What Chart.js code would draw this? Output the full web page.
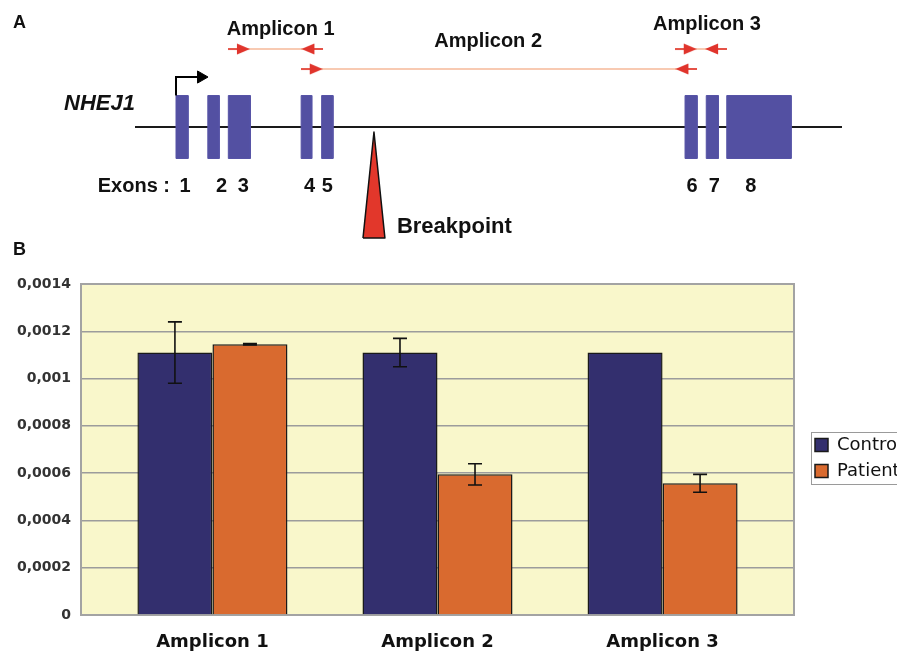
<!DOCTYPE html>
<html><head><meta charset="utf-8">
<script src="https://cdn.jsdelivr.net/npm/chart.js@4.4.1/dist/chart.umd.min.js"></script>
<style>
html,body{margin:0;padding:0;background:#fff;overflow:hidden;width:897px;height:653px;}
#wrap{position:relative;width:897px;height:653px;overflow:hidden;}
#cA{position:absolute;left:0;top:0;}
#cB{position:absolute;left:0;top:240px;}
</style></head><body>
<div id="wrap">
<canvas id="cA" width="897" height="240"></canvas>
<canvas id="cB" width="907" height="416"></canvas>
</div>
<script>
// ---------- Panel B data ----------
const categories = ['Amplicon 1', 'Amplicon 2', 'Amplicon 3'];
const seriesNames = ['Control', 'Patient'];
const controlValues = [0.00111, 0.00111, 0.00111];
const patientValues = [0.001145, 0.000595, 0.000557];
const controlErrors = [0.00013, 0.00006, 0];
const patientErrors = [0.000003, 0.000045, 0.000038];
const yTickLabels = ['0', '0,0002', '0,0004', '0,0006', '0,0008', '0,001', '0,0012', '0,0014'];

// ---------- Panel A data (schematic gene coordinates, arbitrary units) ----------
const geneName = 'NHEJ1';
const geneSpan = [0, 100];
const exonNumbers = ['1', '2', '3', '4', '5', '6', '7', '8'];
const exonStarts = [5.8, 10.3, 13.2, 23.5, 26.4, 77.8, 80.8, 83.7];
const exonEnds   = [7.5, 11.9, 16.3, 25.0, 28.0, 79.5, 82.5, 92.8];
const ampliconNames = ['Amplicon 1', 'Amplicon 2', 'Amplicon 3'];
const ampliconStarts = [13.2, 23.5, 76.4];
const ampliconEnds   = [26.6, 79.5, 83.7];
const breakpointPos = 33.8;
const breakpointLabel = 'Breakpoint';
const exonsLabel = 'Exons :';

// ---------- Panel A layout (positions / sizes, not data) ----------
const layoutA = {
  xMin: -19.095, xMax: 107.78, yMin: -1.948, yMax: 2.19,
  exonHalf: 0.543,
  ampTrack: [1.345, 1.0, 1.345],
  ampLabelY: [1.586, 1.379, 1.672],
  ampLabelDx: [5, -11, 6],
  primerHalf: 1.5,
  tssTop: 0.862, tssHead: 9.34,
  exonNumY: -1.12,
  exonNumDx: [3, 8, 4, 3, 0, 1, 2, -8],
  bpApex: -0.086, bpBase: -1.914, bpHalf: 1.55,
  bpLabelY: -1.828,
  geneLabelY: 0.293
};

function primerImage(){
  const c = document.createElement('canvas');
  c.width = 22; c.height = 12;
  const g = c.getContext('2d');
  g.strokeStyle = '#e0342c'; g.lineWidth = 1.6;
  g.beginPath(); g.moveTo(0, 6); g.lineTo(10, 6); g.stroke();
  g.fillStyle = '#e0342c';
  g.beginPath(); g.moveTo(9, 0.5); g.lineTo(22, 6); g.lineTo(9, 11.5); g.closePath(); g.fill();
  return c;
}
const primerImg = primerImage();

const FONT_A = '"Liberation Sans", Arial, Helvetica, sans-serif';

// ---------- Panel A chart ----------
const dsA = [];
dsA.push({ // gene line
  data: [{x: geneSpan[0], y: 0}, {x: geneSpan[1], y: 0}],
  borderColor: '#1a1a1a', borderWidth: 2, pointRadius: 0, fill: false, order: 20
});
exonStarts.forEach((s, i) => {
  const e = exonEnds[i], h = layoutA.exonHalf;
  dsA.push({
    data: [{x: s, y: h}, {x: e, y: h}, {x: e, y: -h}, {x: s, y: -h}, {x: s, y: h}],
    borderColor: '#5653a6', borderWidth: 1, backgroundColor: '#5350a2',
    fill: 'shape', pointRadius: 0, order: 10
  });
});
ampliconStarts.forEach((s, i) => {
  dsA.push({
    data: [{x: s, y: layoutA.ampTrack[i]}, {x: ampliconEnds[i], y: layoutA.ampTrack[i]}],
    borderColor: '#f6b898', borderWidth: 1.5, pointRadius: 0, fill: false, order: 15
  });
});
// primers
const primerPts = [], primerRot = [];
ampliconStarts.forEach((s, i) => {
  primerPts.push({x: s + layoutA.primerHalf, y: layoutA.ampTrack[i]}); primerRot.push(0);
  primerPts.push({x: ampliconEnds[i] - layoutA.primerHalf, y: layoutA.ampTrack[i]}); primerRot.push(180);
});
dsA.push({
  data: primerPts, showLine: false, pointStyle: primerImg, pointRotation: primerRot,
  pointRadius: 8, order: 1
});
// transcription start arrow
dsA.push({
  data: [{x: exonStarts[0], y: layoutA.exonHalf}, {x: exonStarts[0], y: layoutA.tssTop}, {x: layoutA.tssHead, y: layoutA.tssTop}],
  borderColor: '#000', borderWidth: 2, pointRadius: 0, fill: false, order: 5, borderJoinStyle: 'miter'
});
dsA.push({
  data: [{x: layoutA.tssHead, y: layoutA.tssTop}], showLine: false,
  pointStyle: 'triangle', pointRotation: 90, pointRadius: 7,
  pointBackgroundColor: '#000', pointBorderColor: '#000', pointBorderWidth: 1, order: 4
});
// breakpoint triangle
dsA.push({
  data: [{x: breakpointPos - layoutA.bpHalf, y: layoutA.bpBase}, {x: breakpointPos, y: layoutA.bpApex},
         {x: breakpointPos + layoutA.bpHalf, y: layoutA.bpBase}, {x: breakpointPos - layoutA.bpHalf, y: layoutA.bpBase}],
  backgroundColor: '#e2372b', borderColor: '#111', borderWidth: 1.5, fill: 'shape',
  pointRadius: 0, borderJoinStyle: 'round', order: 6
});

const textA = {
  id: 'textA',
  afterDatasetsDraw(chart){
    const ctx = chart.ctx, xs = chart.scales.x, ys = chart.scales.y;
    ctx.save();
    ctx.fillStyle = '#111';
    ctx.textBaseline = 'alphabetic';
    ctx.font = 'bold 18px ' + FONT_A;
    ctx.textAlign = 'left';
    ctx.fillText('A', 13, 28);
    ctx.font = 'bold 20px ' + FONT_A;
    ctx.textAlign = 'center';
    ampliconNames.forEach((n, i) => {
      const x = xs.getPixelForValue((ampliconStarts[i] + ampliconEnds[i]) / 2) + layoutA.ampLabelDx[i];
      ctx.fillText(n, x, ys.getPixelForValue(layoutA.ampLabelY[i]));
    });
    const yn = ys.getPixelForValue(layoutA.exonNumY);
    exonNumbers.forEach((n, i) => {
      const x = xs.getPixelForValue((exonStarts[i] + exonEnds[i]) / 2) + layoutA.exonNumDx[i];
      ctx.fillText(n, x, yn);
    });
    ctx.textAlign = 'right';
    ctx.fillText(exonsLabel, xs.getPixelForValue(exonStarts[0]) - 6, yn);
    ctx.font = 'italic bold 22px ' + FONT_A;
    ctx.fillText(geneName, xs.getPixelForValue(geneSpan[0]), ys.getPixelForValue(layoutA.geneLabelY));
    ctx.font = 'bold 22px ' + FONT_A;
    ctx.textAlign = 'left';
    ctx.fillText(breakpointLabel, xs.getPixelForValue(breakpointPos + layoutA.bpHalf) + 12, ys.getPixelForValue(layoutA.bpLabelY));
    ctx.restore();
  }
};

new Chart(document.getElementById('cA'), {
  type: 'line',
  data: {datasets: dsA},
  options: {
    responsive: false, animation: false, events: [],
    layout: {padding: 0, autoPadding: false},
    scales: {
      x: {type: 'linear', min: layoutA.xMin, max: layoutA.xMax, display: false},
      y: {type: 'linear', min: layoutA.yMin, max: layoutA.yMax, display: false}
    },
    plugins: {legend: {display: false}, tooltip: {enabled: false}}
  },
  plugins: [textA]
});

// ---------- Panel B chart ----------
const bgPlugin = {
  id: 'plotBg',
  beforeDraw(chart){
    const {ctx, chartArea: a} = chart;
    ctx.save();
    ctx.fillStyle = '#f9f7cb';
    ctx.fillRect(a.left, a.top, a.right - a.left, a.bottom - a.top);
    ctx.restore();
  },
  beforeDatasetsDraw(chart){
    const {ctx, chartArea: a} = chart;
    ctx.save();
    ctx.strokeStyle = '#a3a3a3'; ctx.lineWidth = 2;
    ctx.strokeRect(a.left, a.top, a.right - a.left, a.bottom - a.top);
    ctx.restore();
  }
};
const errPlugin = {
  id: 'errBars',
  afterDatasetsDraw(chart){
    const ctx = chart.ctx, ys = chart.scales.y;
    ctx.save();
    ctx.strokeStyle = '#111'; ctx.lineWidth = 1.6;
    chart.data.datasets.forEach((ds, di) => {
      const meta = chart.getDatasetMeta(di);
      meta.data.forEach((bar, j) => {
        const v = ds.data[j].y, e = ds.errors[j];
        if (!e) return;
        const yt = ys.getPixelForValue(v + e), yb = ys.getPixelForValue(v - e), x = bar.x, c = 7;
        ctx.beginPath();
        ctx.moveTo(x, yt); ctx.lineTo(x, yb);
        ctx.moveTo(x - c, yt); ctx.lineTo(x + c, yt);
        ctx.moveTo(x - c, yb); ctx.lineTo(x + c, yb);
        ctx.stroke();
      });
    });
    ctx.restore();
  }
};
const legendBorder = {
  id: 'legendBorder',
  afterDraw(chart){
    const lg = chart.legend; if (!lg || !lg.legendHitBoxes || !lg.legendHitBoxes.length) return;
    const hb = lg.legendHitBoxes, ctx = chart.ctx;
    const top = hb[0].top - 4, last = hb[hb.length - 1], bottom = last.top + last.height + 4;
    ctx.save();
    ctx.strokeStyle = '#9a9a9a'; ctx.lineWidth = 1;
    ctx.strokeRect(Math.round(hb[0].left) - 3.5, Math.round(top) + 0.5, chart.width, Math.round(bottom - top));
    ctx.fillStyle = '#111';
    ctx.font = 'bold 18px ' + FONT_A;
    ctx.textAlign = 'left'; ctx.textBaseline = 'alphabetic';
    ctx.fillText('B', 13, 15);
    ctx.restore();
  }
};

const FONT_B = '"DejaVu Sans", Verdana, sans-serif';
new Chart(document.getElementById('cB'), {
  type: 'bar',
  data: {
    datasets: [
      {label: seriesNames[0], data: controlValues.map((v, i) => ({x: i, y: v})), errors: controlErrors,
       backgroundColor: '#332f6e', borderColor: '#1a1a1a', borderWidth: 1.5,
       categoryPercentage: 0.6667, barPercentage: 1},
      {label: seriesNames[1], data: patientValues.map((v, i) => ({x: i, y: v})), errors: patientErrors,
       backgroundColor: '#d96a2f', borderColor: '#1a1a1a', borderWidth: 1.5,
       categoryPercentage: 0.6667, barPercentage: 1}
    ]
  },
  options: {
    responsive: false, animation: false, events: [],
    layout: {padding: {left: 16, top: 44, right: 0, bottom: 1}, autoPadding: false},
    scales: {
      x: {
        type: 'linear', min: -0.584, max: 2.584, offset: false,
        grid: {display: false, drawTicks: false}, border: {display: false},
        afterBuildTicks: s => { s.ticks = categories.map((c, i) => ({value: i})); },
        afterFit: s => { s.height = 40; },
        ticks: {autoSkip: false, maxRotation: 0, padding: 17, color: '#111',
                font: {family: FONT_B, weight: 'bold', size: 18},
                callback: (v, i) => categories[i]}
      },
      y: {
        min: 0, max: 0.0014,
        ticks: {stepSize: 0.0002, padding: 10, color: '#333',
                font: {family: FONT_B, weight: 'bold', size: 14},
                callback: (v, i) => yTickLabels[i]},
        grid: {color: '#9c9c9c', lineWidth: 1.5, drawTicks: false},
        border: {display: false},
        afterFit: s => { s.width = 65; }
      },
      y2: {
        position: 'right', grid: {display: false, drawTicks: false}, border: {display: false},
        ticks: {display: false}, afterFit: s => { s.width = 13; }
      }
    },
    plugins: {
      legend: {position: 'right', fullSize: false, maxWidth: 100,
        title: {display: true, text: ' ', font: {size: 14}, padding: 0},
        labels: {font: {family: FONT_B, size: 18}, color: '#111', boxWidth: 13, boxHeight: 13, padding: 8}},
      tooltip: {enabled: false}
    }
  },
  plugins: [bgPlugin, errPlugin, legendBorder]
});
</script>
</body></html>
